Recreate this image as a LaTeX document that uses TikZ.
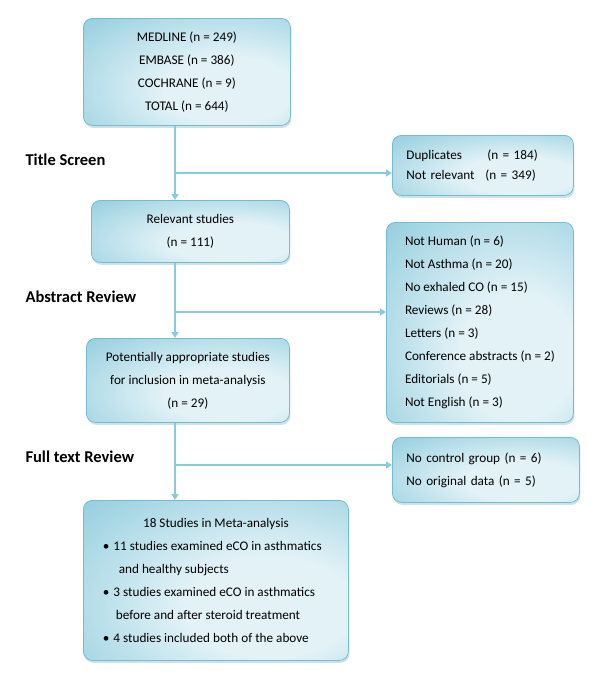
\documentclass[tikz,border=0pt]{standalone}
\usepackage{fontspec}
\setmainfont{Carlito}
\usepackage{tikz}
\usetikzlibrary{positioning,arrows.meta,shadows}

\definecolor{glowin}{RGB}{226,242,247}
\definecolor{glowout}{RGB}{122,194,214}
\definecolor{rimblue}{RGB}{118,188,208}
\definecolor{flowblue}{RGB}{137,203,221}
\pgfdeclareradialshading{boxglow}{\pgfpoint{12bp}{-10bp}}{%
  color(0bp)=(glowin); color(16bp)=(glowin);
  color(54bp)=(glowout); color(100bp)=(glowout)}

\begin{document}
\begin{tikzpicture}[
  x=1pt, y=1pt,
  stage/.style={draw=rimblue, line width=0.8pt, rounded corners=9pt,
                shading=boxglow, anchor=north west, inner sep=0pt,
                drop shadow={shadow xshift=1pt, shadow yshift=-2.5pt,
                             opacity=0.35, fill=rimblue!70!gray},
                align=center, font=\fontsize{13.2}{23}\selectfont},
  excl/.style={stage, align=left, inner xsep=14pt},
  phase/.style={anchor=west, font=\fontsize{16.5}{20}\selectfont\bfseries},
  flow/.style={draw=flowblue, line width=1.5pt,
               -{Triangle[width=7pt,length=6pt]}}
]
\useasboundingbox (0,0) rectangle (600,-678);

% Search sources
\node[stage, minimum width=207, minimum height=107] (src) at (83,-18)
  {MEDLINE (n = 249)\\EMBASE (n = 386)\\COCHRANE (n = 9)\\TOTAL (n = 644)};

% Stage boxes
\node[stage, minimum width=198, minimum height=62] (rel) at (91,-200)
  {Relevant studies\\(n = 111)};
\node[stage, minimum width=203, minimum height=84] (pot) at (86,-338)
  {Potentially appropriate studies\\for inclusion in meta-analysis\\(n = 29)};
\node[stage, minimum width=265, minimum height=160] (fin) at (83,-500)
  {18 Studies in Meta-analysis\\
   \makebox[226pt][l]{\textbullet\hspace{4pt}11 studies examined eCO in asthmatics}\\
   \makebox[226pt][l]{\hspace*{16pt}and healthy subjects}\\
   \makebox[226pt][l]{\textbullet\hspace{4pt}3 studies examined eCO in asthmatics}\\
   \makebox[226pt][l]{\hspace*{13pt}before and after steroid treatment}\\
   \makebox[226pt][l]{\textbullet\hspace{4pt}4 studies included both of the above}};

% Exclusions
\node[excl, text width=153, minimum height=60,
      font=\fontsize{13.2}{20}\selectfont] (ex1) at (392,-135)
  {\makebox[81pt][l]{Duplicates}(n = 184)\\
   \makebox[79pt][l]{Not relevant}(n = 349)};
\node[excl, inner xsep=0pt, minimum width=187, minimum height=200] (ex2) at (386,-222)
  {Not Human (n = 6)\\Not Asthma (n = 20)\\No exhaled CO (n = 15)\\
   Reviews (n = 28)\\Letters (n = 3)\\Conference abstracts (n = 2)\\
   Editorials (n = 5)\\Not English (n = 3)};
\node[excl, text width=159, minimum height=65] (ex3) at (392,-437)
  {No control group (n = 6)\\No original data (n = 5)};

% Phase labels
\node[phase] (tscreen) at (22,-160) {Title Screen};
\node[phase] (areview) at (22,-297) {Abstract Review};
\node[phase] (freview) at (22,-457) {Full text Review};

% Spine and branch points
\coordinate (spine) at (175,0);
\coordinate (b1) at (175,-173);
\coordinate (b2) at (175,-312);
\coordinate (b3) at (175,-465);

% Main flow
\draw[flow] (src.south -| spine) -- (rel.north -| spine);
\draw[flow] (rel.south -| spine) -- (pot.north -| spine);
\draw[flow] (pot.south -| spine) -- (fin.north -| spine);

% Branches to exclusions
\draw[flow] (b1) -- (b1 -| ex1.west);
\draw[flow] (b2) -- (b2 -| ex2.west);
\draw[flow] (b3) -- (b3 -| ex3.west);

\end{tikzpicture}
\end{document}
